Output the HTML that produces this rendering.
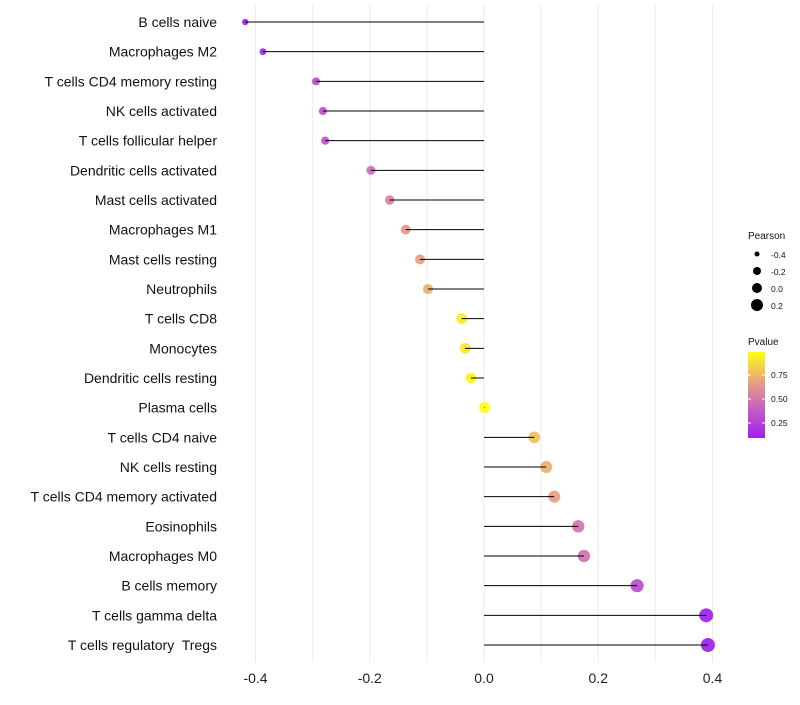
<!DOCTYPE html>
<html><head><meta charset="utf-8"><style>body{margin:0;background:#fff}svg{font-family:"Liberation Sans",sans-serif}text{white-space:pre}</style></head>
<body>
<svg id="c" width="800" height="700">
<defs><linearGradient id="pg" x1="0" y1="1" x2="0" y2="0">
<stop offset="0" stop-color="#a020f0"/><stop offset="0.35" stop-color="#c860c0"/><stop offset="0.65" stop-color="#e8a080"/><stop offset="1" stop-color="#ffff10"/></linearGradient></defs>
</svg>
<script>
const cells=["B cells naive","Macrophages M2","T cells CD4 memory resting","NK cells activated","T cells follicular helper","Dendritic cells activated","Mast cells activated","Macrophages M1","Mast cells resting","Neutrophils","T cells CD8","Monocytes","Dendritic cells resting","Plasma cells","T cells CD4 naive","NK cells resting","T cells CD4 memory activated","Eosinophils","Macrophages M0","B cells memory","T cells gamma delta","T cells regulatory  Tregs"];
const pearson=[-0.418,-0.387,-0.294,-0.282,-0.278,-0.198,-0.165,-0.137,-0.112,-0.098,-0.039,-0.033,-0.023,0.001,0.088,0.109,0.123,0.165,0.175,0.268,0.389,0.392];
const pvalue=[0.08,0.12,0.3,0.32,0.33,0.45,0.55,0.65,0.7,0.75,0.93,0.92,0.96,0.99,0.8,0.75,0.7,0.5,0.48,0.3,0.08,0.07];
const xTicks=[-0.4,-0.2,0.0,0.2,0.4];
const NS="http://www.w3.org/2000/svg",svg=document.getElementById('c');
const x=v=>484+v*571.25, y=i=>22+i*29.667, r=v=>Math.sqrt(Math.max(4,30.2+48.2*v));
function mk(t,a,p){const e=document.createElementNS(NS,t);for(const k in a)e.setAttribute(k,a[k]);(p||svg).appendChild(e);return e;}
const stops=[[0.09,[160,32,240]],[0.4,[200,96,192]],[0.7,[232,160,128]],[0.99,[255,255,16]]];
function col(p){p=Math.max(0.09,Math.min(0.99,p));for(let i=0;i<3;i++){const[a,ca]=stops[i],[b,cb]=stops[i+1];if(p<=b){const t=(p-a)/(b-a);return`rgb(${ca.map((c,j)=>Math.round(c+(cb[j]-c)*t)).join(',')})`;}}}
for(let v=-0.4;v<=0.41;v+=0.1){const g=mk('line',{x1:x(v),x2:x(v),y1:5,y2:662,stroke:'#ebebeb','stroke-width':1});

}
xTicks.forEach(t=>{const e=mk('text',{x:x(t),y:683,'text-anchor':'middle','font-size':14,fill:'#222'});e.textContent=t.toFixed(1);

});
cells.forEach((c,i)=>{
const l=mk('text',{x:217,y:y(i)+5,'text-anchor':'end','font-size':14,fill:'#111'});l.textContent=c;


const d=mk('circle',{cx:x(pearson[i]),cy:y(i),r:r(pearson[i]),fill:col(pvalue[i]),'fill-opacity':0.92});


const s=mk('line',{x1:x(0),x2:x(pearson[i]),y1:y(i),y2:y(i),stroke:'#000','stroke-width':1});


});
const lg=mk('g',{});
let t=mk('text',{x:748,y:239,'font-size':10,fill:'#111'},lg);t.textContent='Pearson';
const lr=[2.5,4,5,6];
[-0.4,-0.2,0.0,0.2].forEach((v,k)=>{mk('circle',{cx:757,cy:254+k*17,r:lr[k],fill:'#000'},lg);const e=mk('text',{x:771,y:258+k*17,'font-size':8.5,fill:'#111'},lg);e.textContent=v.toFixed(1);});
t=mk('text',{x:748,y:345,'font-size':10,fill:'#111'},lg);t.textContent='Pvalue';
mk('rect',{x:748,y:352,width:17,height:86,fill:'url(#pg)'},lg);
[[0.75,375],[0.5,399],[0.25,423]].forEach(([v,yy])=>{mk('line',{x1:748,x2:751,y1:yy,y2:yy,stroke:'#fff'},lg);mk('line',{x1:762,x2:765,y1:yy,y2:yy,stroke:'#fff'},lg);const e=mk('text',{x:771,y:yy+3,'font-size':8.5,fill:'#111'},lg);e.textContent=v.toFixed(2);});
</script>
</body></html>
